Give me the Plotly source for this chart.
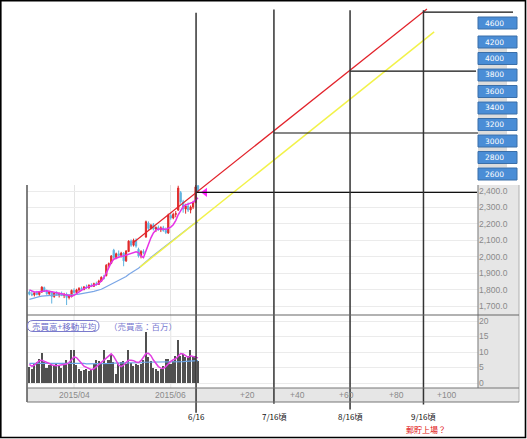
import plotly.graph_objects as go

W, H = 527, 439

# ---------------- data ----------------
opens = [1785, 1772, 1768, 1780, 1770, 1785, 1812, 1790, 1775, 1786,
         1758, 1778, 1768, 1775, 1764, 1770, 1752, 1758, 1795, 1782,
         1798, 1806, 1800, 1816, 1810, 1826, 1820, 1836, 1832, 1850,
         1872, 1885, 1948, 1960, 2040, 1995, 2018, 2008, 2022, 1975,
         2032, 2095, 2070, 2100, 2045, 2005, 2032, 2120, 2205, 2172,
         2195, 2168, 2178, 2164, 2176, 2160, 2144, 2250, 2236, 2258,
         2284, 2390, 2334, 2290, 2308, 2284, 2302, 2330, 2432]
highs = [1795, 1790, 1785, 1792, 1790, 1820, 1818, 1800, 1792, 1790,
         1785, 1790, 1782, 1788, 1780, 1782, 1772, 1800, 1808, 1805,
         1815, 1818, 1822, 1830, 1832, 1838, 1842, 1848, 1860, 1880,
         1890, 1955, 1965, 2010, 2048, 2025, 2038, 2030, 2028, 2040,
         2100, 2105, 2110, 2112, 2055, 2040, 2045, 2220, 2215, 2200,
         2205, 2185, 2190, 2185, 2188, 2178, 2262, 2265, 2268, 2278,
         2432, 2400, 2346, 2322, 2330, 2312, 2340, 2436, 2440]
lows = [1765, 1760, 1758, 1765, 1762, 1780, 1785, 1768, 1765, 1715,
        1750, 1762, 1752, 1760, 1748, 1706, 1740, 1752, 1775, 1778,
        1788, 1795, 1796, 1806, 1805, 1815, 1816, 1825, 1828, 1846,
        1860, 1880, 1935, 1955, 1988, 1985, 2000, 1995, 1942, 1968,
        2028, 2060, 2062, 2055, 1995, 1990, 2015, 2115, 2160, 2165,
        2160, 2150, 2158, 2150, 2152, 2138, 2140, 2225, 2228, 2240,
        2278, 2322, 2268, 2262, 2272, 2264, 2290, 2325, 2388]
closes = [1772, 1768, 1780, 1770, 1785, 1815, 1790, 1775, 1786, 1758,
          1778, 1768, 1775, 1764, 1770, 1752, 1760, 1795, 1782, 1798,
          1806, 1800, 1816, 1810, 1826, 1820, 1836, 1830, 1852, 1875,
          1868, 1948, 1958, 2004, 1995, 2018, 2008, 2022, 1975, 2035,
          2095, 2070, 2100, 2065, 2005, 2032, 2025, 2213, 2172, 2192,
          2168, 2178, 2164, 2176, 2160, 2148, 2254, 2236, 2258, 2262,
          2418, 2334, 2290, 2308, 2284, 2302, 2330, 2425, 2396]
price_ma_short = [1798, 1790, 1785, 1786, 1788, 1792, 1795, 1793, 1790, 1786,
                  1782, 1780, 1778, 1775, 1772, 1768, 1762, 1760, 1765, 1775,
                  1788, 1798, 1806, 1812, 1818, 1822, 1826, 1830, 1838, 1852,
                  1872, 1900, 1935, 1965, 1985, 1992, 2000, 2003, 2005, 2010,
                  2018, 2022, 2028, 2030, 2025, 2005, 1995, 2035, 2080, 2115,
                  2145, 2162, 2168, 2170, 2168, 2166, 2172, 2180, 2195, 2220,
                  2255, 2285, 2305, 2315, 2320, 2325, 2332, 2345, 2358]
price_ma_long = [1740, 1745, 1750, 1754, 1757, 1760, 1762, 1764, 1765, 1766,
                 1766, 1766, 1766, 1766, 1766, 1766, 1766, 1767, 1768, 1770,
                 1772, 1774, 1777, 1780, 1783, 1786, 1789, 1792, 1796, 1802,
                 1810, 1818, 1826, 1834, 1842, 1850, 1857, 1863, 1870, 1880,
                 1892, 1903, 1912, 1920, 1930, 1942, 1955, 1968, 1982, 1995,
                 2008, 2020, 2032, 2044, 2056, 2068, 2080, 2092, 2104, 2116,
                 2128, 2140, 2152, 2164, 2175, 2186, 2196, 2204, 2211]
volumes = [5.3, 4.6, 6.6, 6.8, 7.6, 9.6, 6.8, 4.8, 5.9, 6.4,
           5.4, 6.6, 5.6, 5.0, 6.2, 7.5, 6.0, 10.8, 10.8, 5.8,
           4.4, 4.0, 4.3, 4.6, 3.8, 4.4, 6.2, 7.4, 7.0, 6.2,
           10.8, 6.6, 7.4, 9.5, 6.8, 3.0, 6.6, 6.8, 7.2, 6.0,
           10.7, 6.4, 5.6, 6.0, 5.8, 6.2, 7.5, 16.6, 8.4, 7.2,
           5.0, 4.4, 4.0, 4.6, 5.6, 7.8, 7.8, 6.0, 7.0, 8.6,
           13.9, 8.8, 9.2, 8.4, 8.8, 10.8, 8.6, 8.6, 7.0]
volume_ma_short = [6.0, 5.4, 5.8, 6.6, 7.2, 7.3, 7.0, 6.8, 6.3, 5.8,
                   5.6, 5.6, 5.7, 5.8, 5.9, 6.1, 6.6, 7.5, 8.4, 8.2,
                   7.4, 6.4, 5.4, 5.0, 4.6, 4.3, 4.6, 5.3, 5.9, 6.6,
                   7.4, 8.3, 9.0, 9.4, 8.6, 7.2, 5.8, 5.3, 5.8, 6.6,
                   7.3, 7.3, 7.2, 6.8, 6.6, 7.2, 8.5, 9.5, 9.6, 8.8,
                   7.4, 6.2, 5.3, 4.8, 4.7, 5.3, 6.2, 7.0, 7.5, 7.8,
                   8.6, 9.5, 9.4, 8.7, 8.3, 8.8, 8.5, 8.3, 8.1]
volume_ma_long = [6.3, 6.3, 6.3, 6.4, 6.4, 6.5, 6.5, 6.5, 6.5, 6.5,
                  6.4, 6.4, 6.4, 6.3, 6.3, 6.3, 6.3, 6.3, 6.4, 6.4,
                  6.4, 6.3, 6.3, 6.2, 6.2, 6.1, 6.1, 6.1, 6.1, 6.1,
                  6.2, 6.2, 6.3, 6.3, 6.4, 6.4, 6.4, 6.4, 6.4, 6.4,
                  6.5, 6.5, 6.5, 6.6, 6.6, 6.6, 6.7, 6.7, 6.8, 6.8,
                  6.8, 6.8, 6.8, 6.7, 6.7, 6.7, 6.7, 6.7, 6.8, 6.8,
                  6.8, 6.9, 6.9, 7.0, 7.0, 7.0, 7.1, 7.1, 7.2]

price_ticks = [1700, 1800, 1900, 2000, 2100, 2200, 2300, 2400]
volume_ticks = [0, 5, 10, 15, 20]
month_ticks = [18, 57]
month_labels = ["2015/04", "2015/06"]
future_offsets = [20, 40, 60, 80, 100]
future_labels = ["+20", "+40", "+60", "+80", "+100"]

guide_labels = ["6/16", "7/16頃", "8/16頃", "9/16頃"]
guide_idx = [67.2, 98.6, 129.3, 158.9]
guide_top = [3485, 3505, 3500, 3500]
guide_bottom = [1050, 1105, 1070, 1100]
target_prices = [2392, 2753, 3130, 3489]
target_end_idx = [180.5, 182.5, 180.1, 195.0]
red_idx = [41.7, 160.3]
red_price = [2083, 3508]
yellow_idx = [44.6, 163.2]
yellow_price = [1937, 3368]
marker_idx = [70.8]
marker_price = [2392]
button_labels = ["4600", "4200", "4000", "3800", "3600", "3400", "3200", "3000", "2800", "2600"]
note_text = "郵貯上場？"

assert all(len(a) == 69 for a in [opens, highs, lows, closes, price_ma_short, price_ma_long,
                                   volumes, volume_ma_short, volume_ma_long])

# ---------------- scales (pixel geometry of the screenshot) ----------------
X0_PX, DX = 29.4, 2.48          # pixel of first candle, px per trading day
P_REF_PX, P_REF, PY = 191, 2400, 0.1643
V0_PX, VY = 383, 3.1
last_idx = len(closes) - 1
idx = list(range(len(closes)))


def ix(px):
    return (px - X0_PX) / DX


def price_at(py):
    return P_REF - (py - P_REF_PX) / PY


def vol_at(py):
    return (V0_PX - py) / VY


def fx(px):
    return px / W


def fy(py):
    return 1 - py / H


CJK = "Noto Sans CJK JP"
SANS = "Liberation Sans"

fig = go.Figure()

# price panel
fig.add_trace(go.Candlestick(
    x=idx, open=opens, high=highs, low=lows, close=closes,
    increasing=dict(line=dict(color="#e02a2a", width=1), fillcolor="#e02a2a"),
    decreasing=dict(line=dict(color="#5fb3e0", width=1), fillcolor="#5fb3e0"),
    whiskerwidth=0, xaxis="x", yaxis="y", showlegend=False, hoverinfo="skip"))
fig.add_trace(go.Scatter(x=idx, y=price_ma_long, mode="lines",
                         line=dict(color="#7aa6e6", width=1.2), xaxis="x", yaxis="y",
                         showlegend=False, hoverinfo="skip"))
fig.add_trace(go.Scatter(x=idx, y=price_ma_short, mode="lines",
                         line=dict(color="#e632e6", width=1.5), xaxis="x", yaxis="y",
                         showlegend=False, hoverinfo="skip"))
fig.add_trace(go.Scatter(x=marker_idx, y=marker_price, mode="markers",
                         marker=dict(symbol="triangle-left", size=8, color="#ff22ff"),
                         xaxis="x", yaxis="y", showlegend=False, hoverinfo="skip"))

# volume panel
fig.add_trace(go.Bar(x=idx, y=volumes, width=0.62, marker=dict(color="#505050", line=dict(width=0)),
                     xaxis="x2", yaxis="y2", showlegend=False, hoverinfo="skip"))
fig.add_trace(go.Scatter(x=idx, y=volume_ma_long, mode="lines",
                         line=dict(color="#6aa4e8", width=1.2), xaxis="x2", yaxis="y2",
                         showlegend=False, hoverinfo="skip"))
fig.add_trace(go.Scatter(x=idx, y=volume_ma_short, mode="lines",
                         line=dict(color="#e23ee2", width=1.5), xaxis="x2", yaxis="y2",
                         showlegend=False, hoverinfo="skip"))

# projection overlay (whole picture)
fig.add_trace(go.Scatter(x=yellow_idx, y=yellow_price, mode="lines",
                         line=dict(color="#f2f24a", width=1.5), xaxis="x3", yaxis="y3",
                         showlegend=False, hoverinfo="skip"))
fig.add_trace(go.Scatter(x=red_idx, y=red_price, mode="lines",
                         line=dict(color="#e2222a", width=1.2), xaxis="x3", yaxis="y3",
                         showlegend=False, hoverinfo="skip"))
for gx, gp, ge in zip(guide_idx, target_prices, target_end_idx):
    fig.add_trace(go.Scatter(x=[gx, ge], y=[gp, gp], mode="lines",
                             line=dict(color="#111111", width=1.2), xaxis="x3", yaxis="y3",
                             showlegend=False, hoverinfo="skip"))
for gx, gt, gb in zip(guide_idx, guide_top, guide_bottom):
    fig.add_trace(go.Scatter(x=[gx, gx], y=[gb, gt], mode="lines",
                             line=dict(color="#333333", width=1.5), xaxis="x3", yaxis="y3",
                             showlegend=False, hoverinfo="skip"))

shapes = []
# grey axis bands
shapes.append(dict(type="rect", xref="paper", yref="paper", x0=fx(478), x1=fx(519), y0=fy(402), y1=fy(185),
                   fillcolor="#e6e6e6", line=dict(width=0), layer="below"))
shapes.append(dict(type="rect", xref="paper", yref="paper", x0=fx(27), x1=fx(519), y0=fy(402), y1=fy(388),
                   fillcolor="#e6e6e6", line=dict(width=0), layer="below"))


def hline(py, x0, x1, color, w=1):
    shapes.append(dict(type="line", xref="paper", yref="paper", x0=fx(x0), x1=fx(x1), y0=fy(py), y1=fy(py),
                       line=dict(color=color, width=w)))


def vline(px, y0, y1, color, w=1):
    shapes.append(dict(type="line", xref="paper", yref="paper", x0=fx(px), x1=fx(px), y0=fy(y0), y1=fy(y1),
                       line=dict(color=color, width=w)))


vline(27, 185, 402, "#555555", 1.5)
vline(478, 185, 388, "#8a8a8a", 1.2)
vline(519, 185, 402, "#b0b0b0", 1)
hline(315, 27, 519, "#666666", 1.2)
hline(388, 27, 519, "#777777", 1.2)
hline(402, 27, 519, "#777777", 1.2)

# month grid lines in volume panel
for m in month_ticks:
    shapes.append(dict(type="line", xref="x2", yref="y2 domain", x0=m, x1=m, y0=0, y1=1,
                       line=dict(color="#e4e4e4", width=1), layer="below"))

# outer border
shapes.append(dict(type="rect", xref="paper", yref="paper", x0=fx(0.8), x1=fx(525.5), y0=fy(437.5), y1=fy(0.8),
                   line=dict(color="#000000", width=1.6), fillcolor="rgba(0,0,0,0)"))

# blue level buttons
annotations = []
btn_centers = [23] + [42 + 16.5 * k for k in range(len(button_labels) - 1)]
for k, (lab, cy) in enumerate(zip(button_labels, btn_centers)):
    if 1 <= k <= len(button_labels) - 2:
        shapes.append(dict(type="rect", xref="paper", yref="paper", x0=fx(478), x1=fx(507),
                           y0=fy(cy + 10), y1=fy(cy + 6), fillcolor="#dcdcdc", line=dict(width=0)))
    shapes.append(dict(type="rect", xref="paper", yref="paper", x0=fx(478), x1=fx(517),
                       y0=fy(cy + 6), y1=fy(cy - 6), fillcolor="#4a8dd6",
                       line=dict(color="#3a6ea8", width=1)))
    annotations.append(dict(xref="paper", yref="paper", x=fx(483), y=fy(cy), text=lab, showarrow=False,
                            xanchor="left", yanchor="middle",
                            font=dict(family="DejaVu Sans", size=7.5, color="#ffffff")))

# legend pill in volume panel
x0p, x1p, y0p, y1p, r = 27.5, 99, 320.5, 331.5, 5.5
P = lambda x, y: f"{fx(x):.5f},{fy(y):.5f}"
path = (f"M{P(x0p + r, y0p)} L{P(x1p - r, y0p)} Q{P(x1p, y0p)} {P(x1p, y0p + r)} "
        f"Q{P(x1p, y1p)} {P(x1p - r, y1p)} L{P(x0p + r, y1p)} Q{P(x0p, y1p)} {P(x0p, y1p - r)} "
        f"Q{P(x0p, y0p)} {P(x0p + r, y0p)} Z")
shapes.append(dict(type="path", xref="paper", yref="paper", path=path,
                   line=dict(color="#7a7acc", width=1), fillcolor="rgba(255,255,255,0.9)"))
annotations.append(dict(xref="paper", yref="paper", x=fx(63.5), y=fy(326), text="売買高+移動平均",
                        showarrow=False, xanchor="center", yanchor="middle",
                        font=dict(family=CJK, size=8.5, color="#6c6cc8")))
annotations.append(dict(xref="paper", yref="paper", x=fx(107), y=fy(326), text="（売買高：百万）",
                        showarrow=False, xanchor="left", yanchor="middle",
                        font=dict(family=CJK, size=8.5, color="#7a7ad0")))

# x tick labels in the grey band
tick_pos = month_ticks + [last_idx + o for o in future_offsets]
tick_text = month_labels + future_labels
for tp, tt in zip(tick_pos, tick_text):
    annotations.append(dict(xref="x", yref="paper", x=tp, y=fy(395), text=tt, showarrow=False,
                            xanchor="center", yanchor="middle",
                            font=dict(family=SANS, size=8.5, color="#8a8a8a")))

# guide labels below
for gx, gl in zip(guide_idx, guide_labels):
    annotations.append(dict(xref="x3", yref="paper", x=gx, y=fy(416), text=gl, showarrow=False,
                            xanchor="center", yanchor="middle",
                            font=dict(family=CJK, size=8, color="#111111")))
annotations.append(dict(xref="x3", yref="paper", x=guide_idx[-1] + 1, y=fy(429), text=note_text,
                        showarrow=False, xanchor="center", yanchor="middle",
                        font=dict(family=CJK, size=8, color="#e01010")))

axis_font = dict(family=SANS, size=8.5, color="#8a8a8a")
fig.update_layout(
    width=W, height=H, margin=dict(l=0, r=0, t=0, b=0, pad=0),
    paper_bgcolor="#ffffff", plot_bgcolor="rgba(0,0,0,0)",
    showlegend=False, bargap=0,
    xaxis=dict(domain=[fx(27), fx(478)], range=[ix(27), ix(478)], anchor="y",
               tickvals=month_ticks, showticklabels=False, ticks="", showgrid=True,
               gridcolor="#e4e4e4", zeroline=False, rangeslider=dict(visible=False), fixedrange=True),
    yaxis=dict(domain=[fy(315), fy(185)], range=[price_at(315), price_at(185)], anchor="x",
               side="right", tickvals=price_ticks, tickformat=",.1f", ticks="",
               tickfont=axis_font, showgrid=True, gridcolor="#ebebeb", zeroline=False),
    xaxis2=dict(domain=[fx(27), fx(478)], range=[ix(27), ix(478)], anchor="y2",
                showticklabels=False, ticks="", showgrid=False, zeroline=False),
    yaxis2=dict(domain=[fy(388), fy(315)], range=[vol_at(388), vol_at(315)], anchor="x2",
                side="right", tickvals=volume_ticks, ticks="", tickfont=axis_font,
                showgrid=True, gridcolor="#ebebeb", zeroline=False),
    xaxis3=dict(domain=[0, 1], range=[ix(0), ix(W)], anchor="y3", visible=False),
    yaxis3=dict(domain=[0, 1], range=[price_at(H), price_at(0)], anchor="x3", visible=False),
    shapes=shapes, annotations=annotations,
)

fig.write_html("out.html", config={"displayModeBar": False},
               post_script="document.body.style.margin='0';document.body.style.padding='0';")
